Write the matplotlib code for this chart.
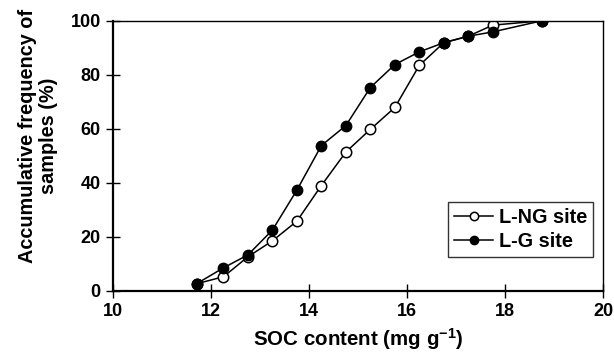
import matplotlib
matplotlib.use("Agg")
import matplotlib.pyplot as plt

plt.rcParams['font.family'] = ['Liberation Sans', 'DejaVu Sans']
plt.rcParams['font.weight'] = 'bold'
plt.rcParams['mathtext.fontset'] = 'custom'
plt.rcParams['mathtext.rm'] = 'Liberation Sans:bold'
plt.rcParams['mathtext.bf'] = 'Liberation Sans:bold'
plt.rcParams['mathtext.it'] = 'Liberation Sans:bold'

# SOC content (mg g-1) and cumulative frequency (%)
ng_x = [11.7, 12.25, 12.75, 13.25, 13.75, 14.25, 14.75, 15.25, 15.75, 16.25, 16.75, 17.25, 17.75, 18.75]
ng_y = [2.6, 5.2, 12.6, 18.5, 25.8, 39.0, 51.4, 59.8, 67.9, 83.5, 91.9, 94.3, 98.4, 100]
g_x = [11.7, 12.25, 12.75, 13.25, 13.75, 14.25, 14.75, 15.25, 15.75, 16.25, 16.75, 17.25, 17.75, 18.75]
g_y = [2.6, 8.5, 13.3, 22.5, 37.3, 53.8, 61.2, 75.3, 83.8, 88.5, 91.9, 94.3, 95.9, 100]

fig = plt.figure(figsize=(6.14, 3.59), dpi=100)
ax = fig.add_axes([0.1845, 0.19, 0.7975, 0.752])

ax.plot(ng_x, ng_y, color='black', lw=1.1, marker='o', ms=7.5,
        markerfacecolor='white', markeredgecolor='black', mew=1.1, label='L-NG site')
ax.plot(g_x, g_y, color='black', lw=1.1, marker='o', ms=7.5,
        markerfacecolor='black', markeredgecolor='black', label='L-G site')

ax.set_xlim(10, 20)
ax.set_ylim(0, 100)
ax.set_xticks([10, 12, 14, 16, 18, 20])
ax.set_yticks([0, 20, 40, 60, 80, 100])
ax.tick_params(direction='inout', length=10, width=1, labelsize=13, pad=4,
               top=False, right=False)
ax.spines['left'].set_linewidth(1.6)
ax.spines['bottom'].set_linewidth(1.6)
ax.spines['top'].set_linewidth(1.0)
ax.spines['right'].set_linewidth(1.0)
for lab in ax.get_xticklabels() + ax.get_yticklabels():
    lab.set_fontweight('bold')

ax.set_xlabel('SOC content (mg g$^{-1}$)', fontsize=14.8, fontweight='bold', labelpad=4)
ax.set_ylabel('Accumulative frequency of\nsamples (%)', fontsize=14.3, fontweight='bold',
              linespacing=1.1)
ax.yaxis.set_label_coords(-0.113, 0.575)

leg = ax.legend(loc='lower right', bbox_to_anchor=(0.98, 0.126), fontsize=14.3,
                frameon=True, fancybox=False, handlelength=1.95, handletextpad=0.3,
                borderpad=0.3, labelspacing=0.25, borderaxespad=0, markerscale=0.8)
leg.get_frame().set_edgecolor('black')
leg.get_frame().set_linewidth(1.0)
for t in leg.get_texts():
    t.set_fontweight('bold')

fig.savefig('out.png', dpi=100)
